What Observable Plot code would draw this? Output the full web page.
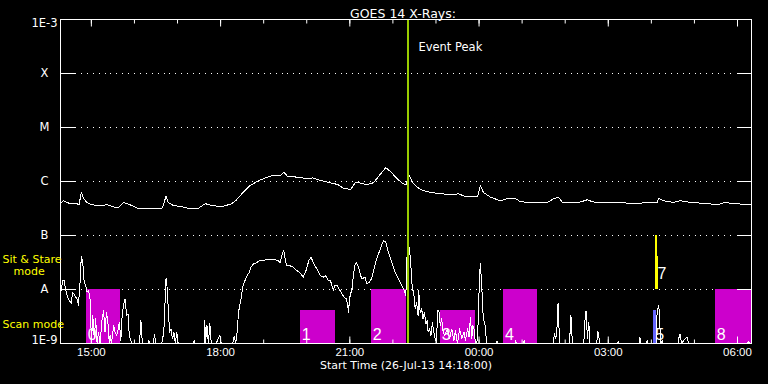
<!DOCTYPE html>
<html><head><meta charset="utf-8">
<script src="https://cdn.jsdelivr.net/npm/d3@7"></script>
<script src="https://cdn.jsdelivr.net/npm/@observablehq/plot@0.6"></script>
<style>html,body{margin:0;padding:0;background:#000;} #chart svg{display:block}</style>
</head><body><div id="chart"></div>
<script>
// ---------- data ----------
const title = "GOES 14 X-Rays:";
const xAxisTitle = "Start Time (26-Jul-13 14:18:00)";
const domainStart = "14:17";
const domainEnd = "06:19:30";
const yLevels = [1e-3, 1e-4, 1e-5, 1e-6, 1e-7, 1e-8, 1e-9];
const yLabels = ["1E-3", "X", "M", "C", "B", "A", "1E-9"];
const xTickLabels = ["15:00", "18:00", "21:00", "00:00", "03:00", "06:00"];
const eventPeak = "22:21:36";
const eventLabel = "Event Peak";
const modeLabels = ["Sit & Stare", "mode", "Scan mode"];

// long channel (1-8 A), W/m^2
const longSeries = [
["14:18",4.1e-7],["14:21",4.4e-7],["14:28",4.0e-7],["14:43",3.8e-7],["14:46",6.3e-7],["14:49",4.8e-7],["14:54",4.1e-7],["15:01",3.7e-7],["15:12",3.6e-7],["15:22",3.7e-7],
["15:33",3.3e-7],["15:38",3.3e-7],["15:45",4.1e-7],["15:54",3.7e-7],["16:04",3.2e-7],["16:18",3.1e-7],["16:36",3.1e-7],["16:39",3.3e-7],["16:44",5.3e-7],["16:47",4.1e-7],
["16:54",3.6e-7],["17:07",3.4e-7],["17:15",3.2e-7],["17:29",3.2e-7],["17:39",3.9e-7],["17:43",3.7e-7],["18:00",3.4e-7],["18:14",3.8e-7],["18:21",4.4e-7],["18:30",6.0e-7],
["18:41",8.4e-7],["18:53",1.04e-6],["19:05",1.2e-6],["19:12",1.29e-6],["19:23",1.29e-6],["19:28",1.49e-6],["19:33",1.26e-6],["19:47",1.2e-6],["20:02",1.12e-6],["20:08",1.17e-6],
["20:15",1.08e-6],["20:29",9.7e-7],["20:43",8.8e-7],["20:51",7.5e-7],["21:01",7.1e-7],["21:08",9.7e-7],["21:15",9.3e-7],["21:24",8.7e-7],["21:33",9.5e-7],["21:43",1.39e-6],
["21:50",1.8e-6],["21:56",1.56e-6],["22:06",1.12e-6],["22:14",9.1e-7],["22:19",8.7e-7],["22:20",1.08e-6],["22:23",1.29e-6],["22:27",9.7e-7],["22:34",7.8e-7],["22:42",6.8e-7],
["22:55",6.2e-7],["23:10",5.9e-7],["23:20",5.65e-7],["23:31",5.9e-7],["23:41",5.3e-7],["23:58",5.26e-7],["00:02",8.4e-7],["00:06",6.3e-7],["00:16",5.1e-7],["00:30",4.4e-7],
["00:41",4.9e-7],["00:51",4.8e-7],["00:58",4.2e-7],["01:16",4.1e-7],["01:35",4.1e-7],["01:44",4.8e-7],["01:51",5.1e-7],["01:56",4.1e-7],["02:17",4.0e-7],["02:31",4.6e-7],
["02:38",4.2e-7],["02:53",4.0e-7],["03:13",4.1e-7],["03:35",3.9e-7],["03:59",4.1e-7],["04:08",4.1e-7],["04:10",4.9e-7],["04:17",4.4e-7],["04:31",4.1e-7],["04:40",4.4e-7],
["04:54",4.1e-7],["05:18",3.9e-7],["05:32",3.7e-7],["05:43",4.1e-7],["05:53",3.9e-7],["06:08",3.8e-7],["06:18",3.7e-7]
];

// short channel (0.5-4 A), W/m^2 (1e-9 = at/below the floor)
const shortSeries = [
["14:18",9.6e-9],["14:20",1.47e-8],["14:22",1.47e-8],["14:24",1.03e-8],["14:27",7.2e-9],["14:29",6.3e-9],["14:32",5.6e-9],["14:34",8.9e-9],["14:37",7.7e-9],["14:40",6.7e-9],
["14:42",5.1e-9],["14:44",1.19e-8],["14:46",4.14e-8],["14:48",3.2e-8],["14:50",1.37e-8],["14:52",1.19e-8],["14:54",8.9e-9],["14:56",9.6e-9],["14:58",7.2e-9],["14:59",3.8e-9],
["15:00",1e-9],["15:02",3.3e-9],["15:04",1.22e-9],["15:06",2.86e-9],["15:08",1e-9],["15:10",1.62e-9],["15:12",1e-9],["15:15",2.86e-9],["15:17",4.1e-9],["15:19",1.62e-9],
["15:21",3.8e-9],["15:23",2.48e-9],["15:25",1e-9],["15:26",1.41e-9],["15:28",1e-9],["15:31",2.15e-9],["15:33",1.62e-9],["15:35",1.41e-9],["15:37",1.74e-9],["15:39",2.48e-9],
["15:41",1.14e-9],["15:43",3.5e-9],["15:45",5.4e-9],["15:47",6.7e-9],["15:49",3.3e-9],["15:51",3.5e-9],["15:52",1.86e-9],["15:54",1.22e-9],["15:57",1e-9],["16:07",1e-9],
["16:08",1.62e-9],["16:09",2.67e-9],["16:11",1e-9],["16:19",1e-9],["16:20",1.14e-9],["16:22",1e-9],["16:26",1e-9],["16:28",1.44e-9],["16:30",1e-9],["16:38",1e-9],
["16:39",1.14e-9],["16:41",1.74e-9],["16:43",7.7e-9],["16:44",1.64e-8],["16:46",9.6e-9],["16:47",4.4e-9],["16:49",1.62e-9],["16:51",1.86e-9],["16:53",1.22e-9],["16:55",1.62e-9],
["16:57",1e-9],["16:59",1.62e-9],["17:01",1e-9],["17:22",1e-9],["17:23",1.14e-9],["17:24",1e-9],["17:37",1e-9],["17:38",2.67e-9],["17:39",1e-9],["17:41",2.15e-9],
["17:43",1e-9],["17:45",2.31e-9],["17:47",1e-9],["17:54",1e-9],["17:56",1.19e-9],["17:59",1.41e-9],["18:01",1e-9],["18:17",1e-9],["18:19",1.36e-9],["18:21",1e-9],
["18:23",1.62e-9],["18:25",3.8e-9],["18:27",5.4e-9],["18:29",7.2e-9],["18:30",9.6e-9],["18:32",1.27e-8],["18:34",1.47e-8],["18:37",1.82e-8],["18:40",2.09e-8],["18:42",2.59e-8],
["18:46",2.98e-8],["18:50",3.11e-8],["18:54",3.45e-8],["18:59",3.45e-8],["19:06",3.59e-8],["19:13",3.59e-8],["19:20",3.45e-8],["19:23",3.11e-8],["19:26",4.56e-8],["19:28",5.27e-8],
["19:30",3.69e-8],["19:32",2.78e-8],["19:36",2.78e-8],["19:41",2.59e-8],["19:46",2.25e-8],["19:50",2.09e-8],["19:55",1.69e-8],["19:59",2.25e-8],["20:03",3.45e-8],["20:06",3.96e-8],
["20:10",2.98e-8],["20:14",2.41e-8],["20:19",1.82e-8],["20:23",1.69e-8],["20:26",1.82e-8],["20:30",1.47e-8],["20:33",1.47e-8],["20:37",9.6e-9],["20:39",1.19e-8],["20:42",1.19e-8],
["20:45",1.03e-8],["20:49",8.3e-9],["20:52",7.2e-9],["20:55",6.7e-9],["20:57",5.4e-9],["20:58",3.8e-9],["21:00",7.2e-9],["21:03",1.03e-8],["21:05",1.82e-8],["21:07",2.78e-8],
["21:09",3.11e-8],["21:12",2.59e-8],["21:15",1.82e-8],["21:17",1.57e-8],["21:21",1.69e-8],["21:24",1.27e-8],["21:27",1.37e-8],["21:30",1.57e-8],["21:32",1.95e-8],["21:36",3.2e-8],
["21:40",4.56e-8],["21:44",6.5e-8],["21:47",8.07e-8],["21:50",7.5e-8],["21:53",5.27e-8],["21:56",3.96e-8],["22:00",2.78e-8],["22:04",1.95e-8],["22:08",1.57e-8],["22:11",1.27e-8],
["22:15",1.03e-8],["22:18",7.7e-9],["22:20",5.65e-8],["22:21",2.0e-8],["22:23",6.07e-8],["22:25",2.78e-8],["22:27",1.03e-8],["22:29",8.9e-9],["22:31",4.4e-9],["22:33",5.8e-9],
["22:35",3.3e-9],["22:36",9.6e-9],["22:38",3.8e-9],["22:40",4.4e-9],["22:42",2.86e-9],["22:44",3.8e-9],["22:46",2.31e-9],["22:48",2.67e-9],["22:49",1.62e-9],["22:51",1.86e-9],
["22:53",1.41e-9],["22:55",2.48e-9],["22:57",1.62e-9],["22:59",1.22e-9],["23:01",1e-9],["23:02",4.1e-9],["23:04",4.1e-9],["23:06",2.15e-9],["23:08",2.86e-9],["23:10",1.62e-9],
["23:12",1.41e-9],["23:16",1.86e-9],["23:19",1.22e-9],["23:22",1.86e-9],["23:25",1.14e-9],["23:27",1.74e-9],["23:30",1e-9],["23:33",1.86e-9],["23:36",1.22e-9],["23:39",1.62e-9],
["23:41",1.14e-9],["23:44",1.86e-9],["23:46",1.31e-9],["23:48",3.07e-9],["23:50",1.22e-9],["23:51",2.15e-9],["23:53",1.86e-9],["23:55",1e-9],["23:58",1.14e-9],["23:59",3.8e-9],
["00:01",2.09e-8],["00:02",2.98e-8],["00:04",9.6e-9],["00:05",5.4e-9],["00:06",2.67e-9],["00:08",2.48e-9],["00:09",1.62e-9],["00:11",1e-9],["00:24",1e-9],["00:25",1.1e-9],
["00:26",1e-9],["00:50",1e-9],["00:51",1.14e-9],["00:52",1e-9],["01:02",1e-9],["01:03",1.14e-9],["01:04",1e-9],["01:43",1e-9],["01:45",1.51e-9],["01:47",1.22e-9],
["01:49",2.31e-9],["01:50",5.6e-9],["01:51",2.86e-9],["01:52",1e-9],["02:06",1e-9],["02:08",3.3e-9],["02:09",1.86e-9],["02:10",1e-9],["02:26",1e-9],["02:27",2.31e-9],
["02:29",4.0e-9],["02:31",1.22e-9],["02:32",1.86e-9],["02:33",2.48e-9],["02:34",1e-9],["02:44",1e-9],["02:45",1.69e-9],["02:46",1.62e-9],["02:48",1e-9],["03:13",1e-9],
["03:14",1.09e-9],["03:15",1e-9],["03:43",1e-9],["03:44",1.31e-9],["03:45",1e-9],["03:53",1e-9],["03:54",1.14e-9],["03:55",1e-9],["04:07",1e-9],["04:08",3.8e-9],
["04:10",5.1e-9],["04:11",4.1e-9],["04:13",1e-9],["04:15",1.14e-9],["04:16",1e-9],["04:37",1e-9],["04:38",1.22e-9],["04:40",1.51e-9],["04:42",1e-9],["04:45",1.14e-9],
["04:48",1.25e-9],["04:50",1.31e-9],["04:52",1e-9],["06:14",1e-9],["06:15",1.09e-9],["06:17",1e-9]
];

// observation windows
const scanLabels = ["0", "1", "2", "3", "4", "5", "8"];
const scanStart  = ["14:53", "19:51", "21:30", "23:06", "00:34", "04:03:18", "05:29"];
const scanEnd    = ["15:41", "20:40", "22:19", "23:55", "01:21", "04:06:42", "06:19:30"];
const scanTop    = [1e-8, 4.1e-9, 1e-8, 4.1e-9, 1e-8, 4.1e-9, 1e-8];
const scanKind   = ["a", "a", "a", "a", "a", "b", "a"];
const scanBase   = 1e-9;

const stareLabels = ["7", ""];
const stareStart  = ["04:05:42", "04:08:06"];
const stareEnd    = ["04:08:06", "04:09:54"];
const stareTop    = [1e-7, 4.1e-8];
const stareBase   = 1e-8;

// ---------- build ----------
function T(s) {
  const [h, m, sec = 0] = s.split(":").map(Number);
  const day = h < 12 ? 27 : 26;
  return new Date(Date.UTC(2013, 6, day, h, m, sec));
}
const kindColor = {a: "#cc00cc", b: "#6666ff"};
const longData = longSeries.map(([t, v]) => ({t: T(t), v}));
const shortData = shortSeries.map(([t, v]) => ({t: T(t), v}));
const scanBars = scanLabels.map((label, i) => ({label, x1: T(scanStart[i]), x2: T(scanEnd[i]), y1: scanBase, y2: scanTop[i], kind: scanKind[i]}));
const stareBars = stareLabels.map((label, i) => ({label, x1: T(stareStart[i]), x2: T(stareEnd[i]), y1: stareBase, y2: stareTop[i]}));
const innerLevels = yLevels.slice(1, -1);
const allHours = d3.utcHour.every(1).range(T(domainStart), T(domainEnd));
const majorHours = xTickLabels.map(T);
const yLab = yLevels.map((v, i) => ({v, label: yLabels[i], i}));
const lvlB = yLevels[4], lvlA = yLevels[5], lvlFloor = yLevels[6];

const W = "#ffffff";
const crisp = "crispEdges";
const chart = Plot.plot({
  width: 768, height: 384,
  marginTop: 19, marginRight: 17, marginBottom: 41, marginLeft: 60,
  style: {background: "#000", color: W, fontFamily: "DejaVu Sans", fontSize: "11px"},
  x: {type: "utc", domain: [T(domainStart), T(domainEnd)]},
  y: {type: "log", domain: [yLevels[6], yLevels[0]]},
  marks: [
    Plot.ruleY(innerLevels, {stroke: W, strokeDasharray: "1 4.9", insetLeft: 15, insetRight: 15, shapeRendering: crisp}),
    Plot.rect(scanBars, {x1: "x1", x2: "x2", y1: "y1", y2: "y2", fill: d => kindColor[d.kind], shapeRendering: crisp}),
    Plot.rect(stareBars, {x1: "x1", x2: "x2", y1: "y1", y2: "y2", fill: "#ffff00", shapeRendering: crisp}),
    Plot.line(shortData, {x: "t", y: "v", stroke: W, strokeWidth: 1, shapeRendering: crisp}),
    Plot.line(longData, {x: "t", y: "v", stroke: W, strokeWidth: 1, shapeRendering: crisp}),
    Plot.text(scanBars, {x: "x1", y: "y1", text: "label", dx: 1.5, dy: -4, textAnchor: "start", lineAnchor: "bottom", fill: W, fontSize: 16, fontFamily: "Liberation Sans"}),
    Plot.text(stareBars.filter(d => d.label), {x: "x1", y: "y1", text: "label", dx: 2, dy: -11, textAnchor: "start", lineAnchor: "bottom", fill: W, fontSize: 16, fontFamily: "Liberation Sans"}),
    Plot.ruleX([T(eventPeak)], {stroke: "#99cc00", strokeWidth: 2, shapeRendering: crisp}),
    Plot.text([eventLabel], {x: () => T(eventPeak), text: d => d, frameAnchor: "top", dy: 23, dx: 10, textAnchor: "start", fill: W, fontSize: 11.5}),
    Plot.frame({stroke: W, shapeRendering: crisp}),
    // inward ticks
    Plot.axisX({anchor: "top", ticks: allHours, tickSize: -3.5, fill: "none", stroke: W, label: null}),
    Plot.axisX({anchor: "top", ticks: majorHours, tickSize: -6.5, fill: "none", stroke: W, label: null}),
    Plot.axisX({anchor: "bottom", ticks: allHours, tickSize: -3.5, fill: "none", stroke: W, label: null}),
    Plot.axisX({anchor: "bottom", ticks: majorHours, tickSize: -6.5, fill: "none", stroke: W, label: null}),
    Plot.axisY({anchor: "left", ticks: innerLevels, tickSize: -15, fill: "none", stroke: W, label: null}),
    Plot.axisY({anchor: "right", ticks: innerLevels, tickSize: -15, fill: "none", stroke: W, label: null}),
    // labels
    Plot.text(yLab.filter(d => d.i > 0 && d.i < 6), {y: "v", text: "label", frameAnchor: "left", dx: -16, textAnchor: "middle", fill: W, fontSize: 11.5}),
    Plot.text(yLab.filter(d => d.i === 0), {y: "v", text: "label", frameAnchor: "left", dx: -16, dy: 4, textAnchor: "middle", fill: W, fontSize: 11.5}),
    Plot.text(yLab.filter(d => d.i === 6), {y: "v", text: "label", frameAnchor: "left", dx: -16, dy: -3, textAnchor: "middle", fill: W, fontSize: 11.5}),
    Plot.text(xTickLabels, {x: d => T(d), text: d => d, frameAnchor: "bottom", dy: 12, fill: W, fontSize: 11.5, fontFamily: "Liberation Sans"}),
    Plot.text([xAxisTitle], {text: d => d, frameAnchor: "bottom", dy: 25, fill: W, fontSize: 11}),
    Plot.text([title], {text: d => d, frameAnchor: "top", dy: -10, dx: -3, fill: W, fontSize: 12.5}),
    Plot.text([modeLabels[0]], {y: () => Math.sqrt(lvlB * lvlA), text: d => d, frameAnchor: "left", dx: -58, dy: -3, textAnchor: "start", fill: "#ffff00", fontSize: 11}),
    Plot.text([modeLabels[1]], {y: () => Math.sqrt(lvlB * lvlA), text: d => d, frameAnchor: "left", dx: -47, dy: 9, textAnchor: "start", fill: "#ffff00", fontSize: 11}),
    Plot.text([modeLabels[2]], {y: () => Math.sqrt(lvlA * lvlFloor), text: d => d, frameAnchor: "left", dx: -58, dy: 8, textAnchor: "start", fill: "#ffff00", fontSize: 11})
  ]
});
document.getElementById("chart").append(chart);
</script>
</body></html>
